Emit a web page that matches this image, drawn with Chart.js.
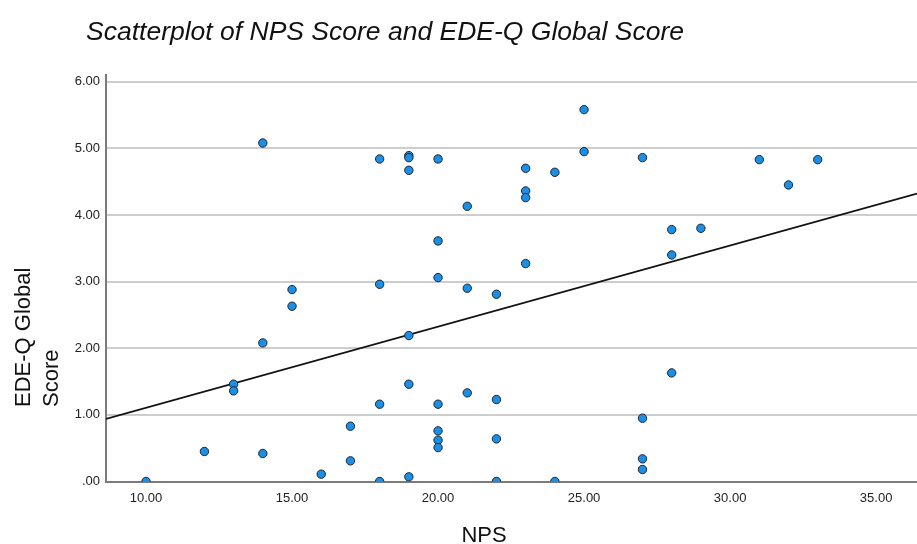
<!DOCTYPE html>
<html>
<head>
<meta charset="utf-8">
<script src="https://cdn.jsdelivr.net/npm/chart.js@4"></script>
<style>
  html, body { margin: 0; padding: 0; background: #fff; }
  #wrap { width: 917px; height: 544px; }
</style>
</head>
<body>
<div id="wrap"><canvas id="scatter-chart"></canvas></div>
<script>
// NPS score (x) and EDE-Q global score (y)
const npsValues = [
  10, 12, 13, 13, 14, 14, 14, 15, 15, 16, 17, 17,
  18, 18, 18, 18, 19, 19, 19, 19, 19, 19,
  20, 20, 20, 20, 20, 20, 20, 21, 21, 21,
  22, 22, 22, 22, 23, 23, 23, 23, 24, 24, 25, 25,
  27, 27, 27, 27, 28, 28, 28, 29, 31, 32, 33
];
const edeqValues = [
  0.00, 0.45, 1.46, 1.36, 5.08, 2.08, 0.42, 2.88, 2.63, 0.11, 0.83, 0.31,
  4.84, 2.96, 1.16, 0.00, 4.89, 4.86, 4.67, 2.19, 1.46, 0.07,
  4.84, 3.61, 3.06, 1.16, 0.76, 0.62, 0.51, 4.13, 2.90, 1.33,
  2.81, 1.23, 0.64, 0.00, 4.70, 4.36, 4.26, 3.27, 4.64, 0.00, 5.58, 4.95,
  4.86, 0.95, 0.34, 0.18, 3.78, 3.40, 1.63, 3.80, 4.83, 4.45, 4.83
];

// fit line end points (left and right edge of the plot)
const fitX = [8.63, 36.4];
const fitY = [0.94, 4.32];

const xTicks = [10, 15, 20, 25, 30, 35];
const yTicks = [0, 1, 2, 3, 4, 5, 6];

const chartTitle = "Scatterplot of NPS Score and EDE-Q Global Score";
const xTitle = "NPS";
const yTitle = ["EDE-Q Global", "Score"];

const fmt = v => v.toFixed(2).replace(/^0\./, ".");

// titles placed like the SPSS output
const titlesPlugin = {
  id: "titles",
  afterDraw(chart) {
    const ctx = chart.ctx;
    ctx.save();
    ctx.fillStyle = "#111";
    ctx.textBaseline = "alphabetic";
    ctx.textAlign = "left";
    ctx.font = "italic 26.5px 'Liberation Sans', Arial, sans-serif";
    ctx.fillText(chartTitle, 86, 40);

    ctx.font = "22px 'Liberation Sans', Arial, sans-serif";
    ctx.textAlign = "center";
    ctx.fillText(xTitle, 484, 542);

    ctx.textAlign = "left";
    ctx.textBaseline = "middle";
    [24, 52].forEach((x, i) => {
      ctx.save();
      ctx.translate(x, 407);
      ctx.rotate(-Math.PI / 2);
      ctx.fillText(yTitle[i], 0, 0);
      ctx.restore();
    });
    ctx.restore();
  }
};

const points = npsValues.map((x, i) => ({ x: x, y: edeqValues[i] }));
const fitPoints = fitX.map((x, i) => ({ x: x, y: fitY[i] }));

new Chart(document.getElementById("scatter-chart"), {
  type: "scatter",
  data: {
    datasets: [{
      label: "Fit",
      type: "line",
      data: fitPoints,
      borderColor: "#111",
      borderWidth: 1.8,
      pointRadius: 0,
      fill: false,
      order: 2
    }, {
      label: "EDE-Q Global Score",
      data: points,
      backgroundColor: "#1b8fe6",
      borderColor: "#1c2530",
      borderWidth: 1,
      pointRadius: 4.2,
      clip: 0,
      order: 1
    }]
  },
  options: {
    responsive: true,
    maintainAspectRatio: false,
    animation: false,
    layout: { autoPadding: false, padding: { top: 75, right: 0, bottom: 0, left: 0 } },
    plugins: {
      legend: { display: false },
      tooltip: { enabled: false },
      title: { display: false }
    },
    scales: {
      x: {
        type: "linear",
        min: 8.63,
        max: 36.4,
        afterBuildTicks: s => { s.ticks = xTicks.map(v => ({ value: v })); },
        afterFit: s => { s.height = 62.5; s.paddingLeft = 0; s.paddingRight = 0; },
        grid: { display: false, drawTicks: false },
        border: { display: true, color: "#7a7a7a", width: 2 },
        ticks: {
          padding: 9,
          color: "#222",
          font: { family: "'Liberation Sans', Arial, sans-serif", size: 13 },
          maxRotation: 0,
          callback: v => fmt(v)
        }
      },
      y: {
        type: "linear",
        min: 0,
        max: 6.1,
        afterBuildTicks: s => { s.ticks = yTicks.map(v => ({ value: v })); },
        afterFit: s => { s.width = 106; s.paddingTop = 0; s.paddingBottom = 0; },
        grid: { color: "#cdcdcd", lineWidth: 2, drawTicks: false },
        border: { display: true, color: "#7a7a7a", width: 2 },
        ticks: {
          padding: 6,
          color: "#222",
          font: { family: "'Liberation Sans', Arial, sans-serif", size: 13 },
          callback: v => fmt(v)
        }
      }
    }
  },
  plugins: [titlesPlugin]
});
</script>
</body>
</html>
